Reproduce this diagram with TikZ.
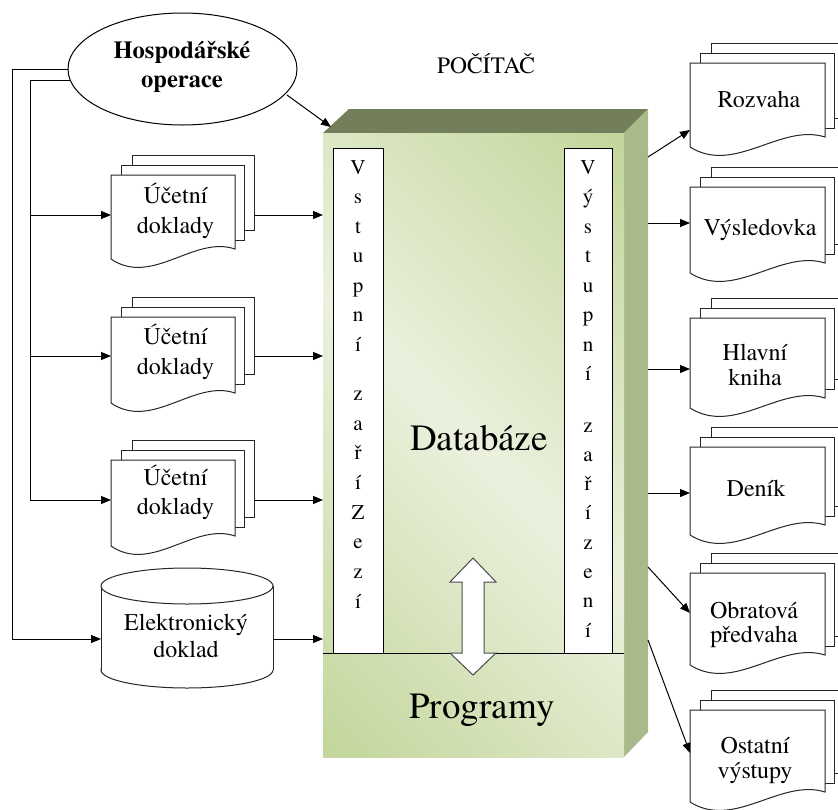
\documentclass[tikz,border=0pt]{standalone}
\usepackage{fontspec}
\setmainfont{texgyretermes}[Extension=.otf, UprightFont=*-regular, BoldFont=*-bold, ItalicFont=*-italic, BoldItalicFont=*-bolditalic]
\usetikzlibrary{arrows.meta,shapes.geometric}
\definecolor{gdark}{HTML}{C3D69B}
\definecolor{glight}{HTML}{EBF1DE}
\definecolor{gtop}{HTML}{737F5B}
\definecolor{gside}{HTML}{A9B98A}
\pgfdeclarehorizontalshading{boxshade}{100bp}{color(0bp)=(gdark); color(15bp)=(gdark); color(50bp)=(glight); color(85bp)=(gdark); color(100bp)=(gdark)}
\newcommand{\docstack}[4]{%
  \filldraw[sheet] ({#1+21},{#2-20}) rectangle ({#1+#3+19},{#2+#4-29});
  \filldraw[sheet] ({#1+10.5},{#2-10}) rectangle ({#1+#3+9.5},{#2+#4-19});
  \filldraw[sheet] (#1,#2) -- ({#1+#3},#2) -- ({#1+#3},{#2+#4-10})
    .. controls ({#1+0.67*#3},{#2+#4-24}) and ({#1+0.33*#3},{#2+#4+28}) .. (#1,{#2+#4}) -- cycle;
}
\begin{document}
\begin{tikzpicture}[x=1pt,y=-1pt,
  sheet/.style={fill=white,draw=black!85,line width=1pt},
  conn/.style={draw=black,line width=1pt,-{Triangle[length=10pt,width=8pt]}},
  plain/.style={draw=black,line width=1pt},
  doctext/.style={anchor=base,inner sep=0pt,font=\fontsize{24}{30}\selectfont},
  colletter/.style={anchor=base,inner sep=0pt,font=\fontsize{21}{25}\selectfont},
  bigtext/.style={anchor=base,inner sep=0pt,font=\fontsize{37}{44}\selectfont}]
\useasboundingbox (0,0) rectangle (838,809);

% ---- computer box ----
\fill[gtop] (323,133) -- (349,109) -- (648,109) -- (624,133) -- cycle;
\fill[gside] (624,133) -- (648,109) -- (648,732) -- (624,757) -- cycle;
\shade[shading=boxshade,shading angle=45] (323,133) rectangle (624,757);
\node[inner sep=0pt,anchor=base,font=\fontsize{23.5}{28}\selectfont] (pc) at (486,73) {POČÍTAČ};

\filldraw[fill=white,draw=black,line width=1pt] (333,148) rectangle (383,653);
\filldraw[fill=white,draw=black,line width=1pt] (564,148) rectangle (612,653);
\draw[plain] (323,653) -- (624,653);

\foreach \ch/\yy [count=\i] in {V/174, s/203.5, t/233, u/262.5, p/292, n/321.5, í/351, z/400, a/430, ř/459, í/489, Z/519, e/548, z/578, í/608}
  \node[colletter] (in\i) at (358,\yy) {\ch};
\foreach \ch/\yy [count=\i] in {V/174, ý/203.5, s/233, t/262.5, u/292, p/321.5, n/351, í/380.5, z/432, a/461, ř/490, í/519.5, z/549, e/578, n/607.5, í/637}
  \node[colletter] (out\i) at (588,\yy) {\ch};

\node[bigtext] (db) at (479,450) {Databáze};
\node[bigtext] (prog) at (482,718) {Programy};

\filldraw[fill=white,draw=black!70,line width=1pt]
  (473,558) -- (496,582) -- (484,582) -- (484,653) -- (496,653) -- (473,675)
  -- (450,653) -- (462,653) -- (462,582) -- (450,582) -- cycle;

% ---- source ellipse ----
\node[ellipse,draw=black,line width=1pt,fill=white,minimum width=229pt,minimum height=112pt,inner sep=0pt] (hosp) at (182.5,69) {};
\node[inner sep=0pt,anchor=base,font=\bfseries\fontsize{24.5}{29}\selectfont] (hospa) at (182,58) {Hospodářské};
\node[inner sep=0pt,anchor=base,font=\bfseries\fontsize{24.5}{29}\selectfont] (hospb) at (182,87) {operace};

% ---- left documents ----
\docstack{111}{175}{124}{84}
\docstack{111}{317}{124}{86}
\docstack{111}{460}{124}{86}
\node[doctext] (u1a) at (175.5,203) {Účetní};
\node[doctext] (u1b) at (175.5,233) {doklady};
\node[doctext] (u2a) at (175.5,344) {Účetní};
\node[doctext] (u2b) at (175.5,374) {doklady};
\node[doctext] (u3a) at (175.5,485) {Účetní};
\node[doctext] (u3b) at (175.5,514) {doklady};

% ---- cylinder ----
\filldraw[fill=white,draw=black!85,line width=1pt] (187,670) ellipse [x radius=86pt, y radius=18pt];
\fill[white] (101,586) rectangle (273,670);
\draw[draw=black!85,line width=1pt] (101,586) -- (101,670) (273,586) -- (273,670);
\filldraw[fill=white,draw=black!85,line width=1pt] (187,586) ellipse [x radius=86pt, y radius=18pt];
\node[doctext] (el1) at (186,630) {Elektronický};
\node[doctext] (el2) at (186,657) {doklad};

% ---- right documents ----
\docstack{690}{63}{135}{84}
\docstack{690}{187}{135}{86}
\docstack{690}{318}{135}{90}
\docstack{690}{447}{135}{88}
\docstack{690}{573}{135}{92}
\docstack{690}{710}{135}{92}
\node[doctext] (r1) at (759,107) {Rozvaha};
\node[doctext] (r2) at (760,235) {Výsledovka};
\node[doctext] (r3a) at (755,360) {Hlavní};
\node[doctext] (r3b) at (755,385) {kniha};
\node[doctext] (r4) at (756,496) {Deník};
\node[doctext] (r5a) at (754,618) {Obratová};
\node[doctext] (r5b) at (754,642) {předvaha};
\node[doctext] (r6a) at (755,753) {Ostatní};
\node[doctext] (r6b) at (755,778) {výstupy};

% ---- connection points ----
\coordinate (hA) at (68,69);
\coordinate (hB) at (70,80);
\coordinate (hC) at (287,95);
\coordinate (boxTL) at (331,127);
\coordinate (busA) at (12,69);
\coordinate (busB) at (30,80);
\coordinate (j1) at (30,215);
\coordinate (j2) at (30,356);
\coordinate (j3) at (30,500);
\coordinate (d1in) at (111,215);
\coordinate (d2in) at (111,356);
\coordinate (d3in) at (111,500);
\coordinate (d1out) at (254,215);
\coordinate (d2out) at (254,356);
\coordinate (d3out) at (254,500);
\coordinate (b1) at (323,215);
\coordinate (b2) at (323,356);
\coordinate (b3) at (323,500);
\coordinate (cylL) at (101,639);
\coordinate (cylR) at (273,639);
\coordinate (b4) at (323,639);
\coordinate (s1) at (648,157);
\coordinate (s2) at (648,223);
\coordinate (s3) at (648,369);
\coordinate (s4) at (648,493);
\coordinate (s5) at (648,567);
\coordinate (s6) at (648,640);
\coordinate (t1) at (690,130);
\coordinate (t2) at (690,223);
\coordinate (t3) at (690,369);
\coordinate (t4) at (690,493);
\coordinate (t5) at (690,613);
\coordinate (t6) at (690,753);

% ---- connectors ----
\draw[conn] (hC) -- (boxTL);
\draw[conn] (hA) -- (busA) |- (cylL);
\draw[conn] (hB) -- (busB) -- (j3) -- (d3in);
\draw[conn] (j1) -- (d1in);
\draw[conn] (j2) -- (d2in);
\draw[conn] (d1out) -- (b1);
\draw[conn] (d2out) -- (b2);
\draw[conn] (d3out) -- (b3);
\draw[conn] (cylR) -- (b4);
\foreach \k in {1,...,6} \draw[conn] (s\k) -- (t\k);
\end{tikzpicture}
\end{document}
